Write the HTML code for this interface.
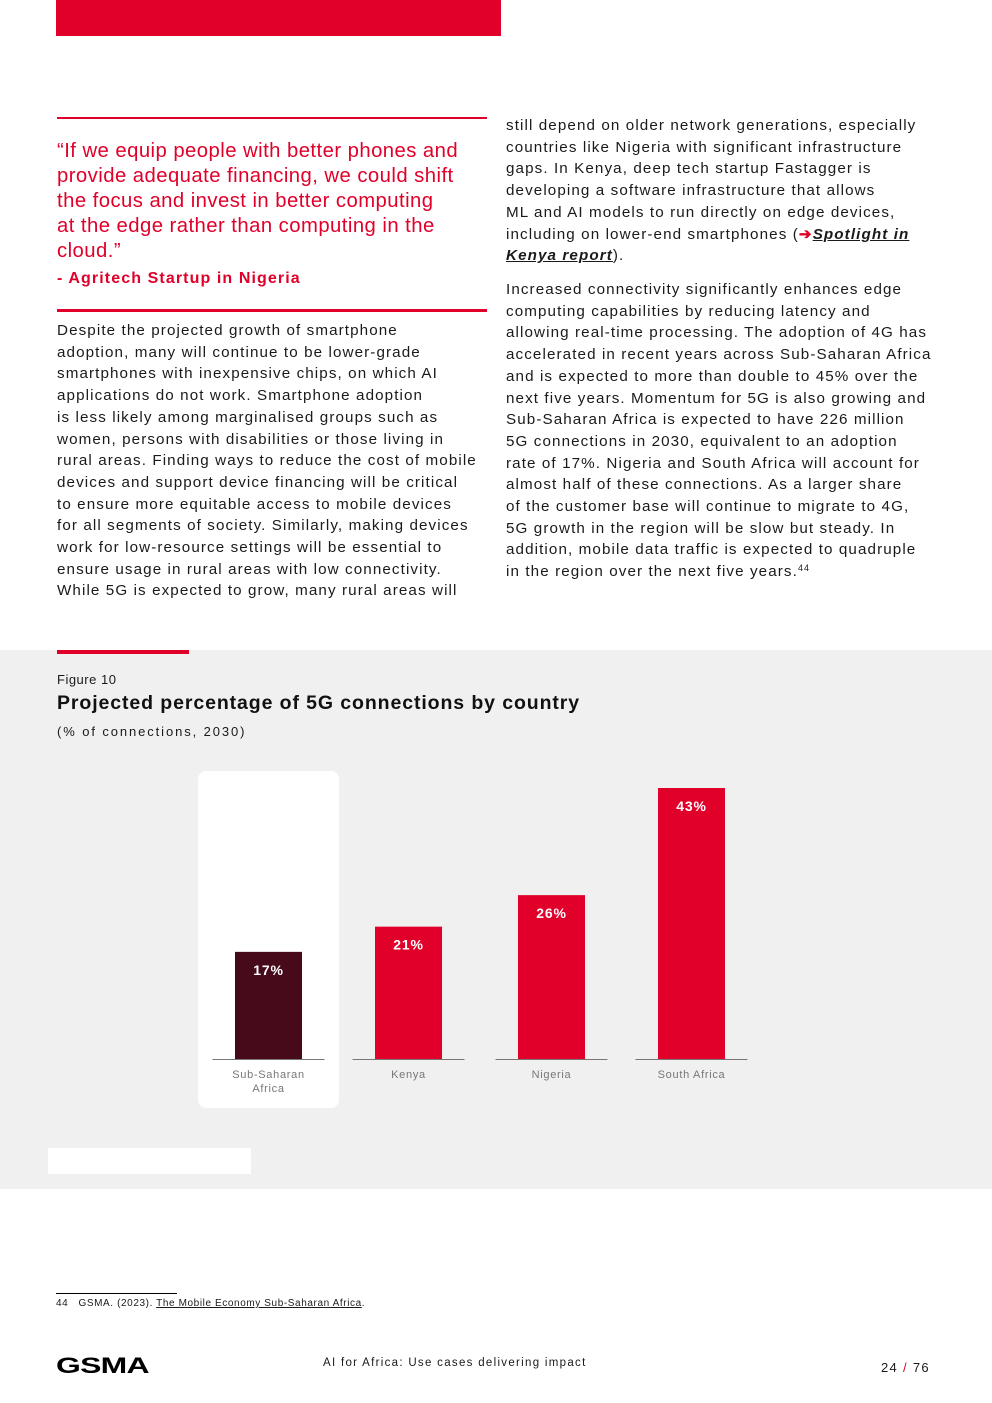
<!DOCTYPE html>
<html><head><meta charset="utf-8">
<style>
*{margin:0;padding:0;box-sizing:border-box}
body{width:992px;height:1403px;position:relative;background:#fff;font-family:"Liberation Sans",sans-serif;color:#1a1a1a;overflow:hidden}
.a{position:absolute;white-space:nowrap}
.t{font-size:15.2px;letter-spacing:1.1px;line-height:21.7px}
.q{font-size:20.3px;color:#e0002a;line-height:25px;letter-spacing:0.45px}
sup{line-height:0;font-size:9px;vertical-align:5px}
</style></head><body>
<div class="a" style="left:56px;top:0;width:445px;height:36px;background:#e0002a"></div>
<div class="a" style="left:57px;top:117px;width:430px;height:2px;background:#e0002a"></div>
<div class="a q" style="left:57px;top:139px">“If we equip people with better phones and<br>provide adequate financing, we could shift<br>the focus and invest in better computing<br>at the edge rather than computing in the<br>cloud.”</div>
<div class="a" style="left:57px;top:270px;font-size:16px;font-weight:bold;color:#e0002a;letter-spacing:1.1px">- Agritech Startup in Nigeria</div>
<div class="a" style="left:57px;top:309px;width:430px;height:2.5px;background:#e0002a"></div>
<div class="a t" style="left:57px;top:320px">Despite the projected growth of smartphone<br>adoption, many will continue to be lower-grade<br>smartphones with inexpensive chips, on which AI<br>applications do not work. Smartphone adoption<br>is less likely among marginalised groups such as<br>women, persons with disabilities or those living in<br>rural areas. Finding ways to reduce the cost of mobile<br>devices and support device financing will be critical<br>to ensure more equitable access to mobile devices<br>for all segments of society. Similarly, making devices<br>work for low-resource settings will be essential to<br>ensure usage in rural areas with low connectivity.<br>While 5G is expected to grow, many rural areas will</div>
<div class="a t" style="left:506px;top:115px">still depend on older network generations, especially<br>countries like Nigeria with significant infrastructure<br>gaps. In Kenya, deep tech startup Fastagger is<br>developing a software infrastructure that allows<br>ML and AI models to run directly on edge devices,<br>including on lower-end smartphones (<span style="color:#e0002a;font-weight:bold">➔</span><b><i><u>Spotlight in </u></i></b><br><b><i><u>Kenya report</u></i></b>).</div>
<div class="a t" style="left:506px;top:279px">Increased connectivity significantly enhances edge<br>computing capabilities by reducing latency and<br>allowing real-time processing. The adoption of 4G has<br>accelerated in recent years across Sub-Saharan Africa<br>and is expected to more than double to 45% over the<br>next five years. Momentum for 5G is also growing and<br>Sub-Saharan Africa is expected to have 226 million<br>5G connections in 2030, equivalent to an adoption<br>rate of 17%. Nigeria and South Africa will account for<br>almost half of these connections. As a larger share<br>of the customer base will continue to migrate to 4G,<br>5G growth in the region will be slow but steady. In<br>addition, mobile data traffic is expected to quadruple<br>in the region over the next five years.<sup>44</sup></div>

<div class="a" style="left:0;top:650px;width:992px;height:539px;background:#f0f0f0"></div>
<div class="a" style="left:57px;top:650px;width:132px;height:4px;background:#e0002a"></div>
<div class="a" style="left:57px;top:672px;font-size:13px;letter-spacing:0.5px">Figure 10</div>
<div class="a" style="left:57px;top:692px;font-size:19.5px;font-weight:bold;color:#111;letter-spacing:0.9px">Projected percentage of 5G connections by country</div>
<div class="a" style="left:57px;top:724px;font-size:13px;letter-spacing:1.9px">(% of connections, 2030)</div>
<div class="a" style="left:198px;top:771px;width:141px;height:337px;background:#fff;border-radius:8px"></div>
<div class="a" style="left:48px;top:1148px;width:203px;height:26px;background:#fff"></div>
<svg class="a" style="left:0;top:0" width="992" height="1403" id="chart"></svg>

<div class="a" style="left:56px;top:1293px;width:121px;height:1px;background:#000"></div>
<div class="a" style="left:56px;top:1298px;font-size:10px;letter-spacing:0.6px">44&nbsp;&nbsp;&nbsp;GSMA. (2023). <u>The Mobile Economy Sub-Saharan Africa</u>.</div>
<div class="a" style="left:56px;top:1353px;font-size:22px;font-weight:900;letter-spacing:-0.5px;color:#000;transform:scaleX(1.45);transform-origin:left top">GSMA</div>
<div class="a" style="left:323px;top:1357px;font-size:11.5px;letter-spacing:1.3px">AI for Africa: Use cases delivering impact</div>
<div class="a" style="left:881px;top:1360px;font-size:13px;letter-spacing:1.3px">24 <span style="color:#e0002a">/</span> 76</div>

<script>
const categories=["Sub-Saharan Africa","Kenya","Nigeria","South Africa"];
const values=[17,21,26,43];
const valueLabels=["17%","21%","26%","43%"];
const svg=document.getElementById('chart');
const NS='http://www.w3.org/2000/svg';
const baseY=1059, pxPerPct=271/43;
function yScale(v){return baseY-v*pxPerPct;}
function xCenter(i){return [268.5,408.5,551.5,691.5][i];}
categories.forEach((c,i)=>{
  const cx=xCenter(i);
  const r=document.createElementNS(NS,'rect');
  
  
  r.setAttribute('x',cx-33.5);r.setAttribute('y',yScale(values[i]));
  r.setAttribute('width',67);r.setAttribute('height',baseY-yScale(values[i]));
  r.setAttribute('fill',i===0?'#470a1b':'#e0002a');
  svg.appendChild(r);
  const l=document.createElementNS(NS,'line');
  
  
  l.setAttribute('x1',cx-56);l.setAttribute('x2',cx+56);l.setAttribute('y1',baseY+0.5);l.setAttribute('y2',baseY+0.5);
  l.setAttribute('stroke','#777');l.setAttribute('stroke-width',1);
  svg.appendChild(l);
  const t=document.createElementNS(NS,'text');
  
  
  t.setAttribute('x',cx);t.setAttribute('y',yScale(values[i])+23);
  t.setAttribute('text-anchor','middle');t.setAttribute('fill','#fff');
  t.setAttribute('font-size','14');t.setAttribute('font-weight','bold');t.setAttribute('letter-spacing','0.8');t.setAttribute('font-family','Liberation Sans, sans-serif');
  t.textContent=valueLabels[i];svg.appendChild(t);
  const words=i===0?["Sub-Saharan","Africa"]:[c];
  words.forEach((w,k)=>{
    const ct=document.createElementNS(NS,'text');
    
    
    ct.setAttribute('x',cx);ct.setAttribute('y',1078+k*14);
    ct.setAttribute('text-anchor','middle');ct.setAttribute('fill','#777');
    ct.setAttribute('font-size','11');ct.setAttribute('letter-spacing','0.7');ct.setAttribute('font-family','Liberation Sans, sans-serif');
    ct.textContent=w;svg.appendChild(ct);
  });
});
</script>
</body></html>
